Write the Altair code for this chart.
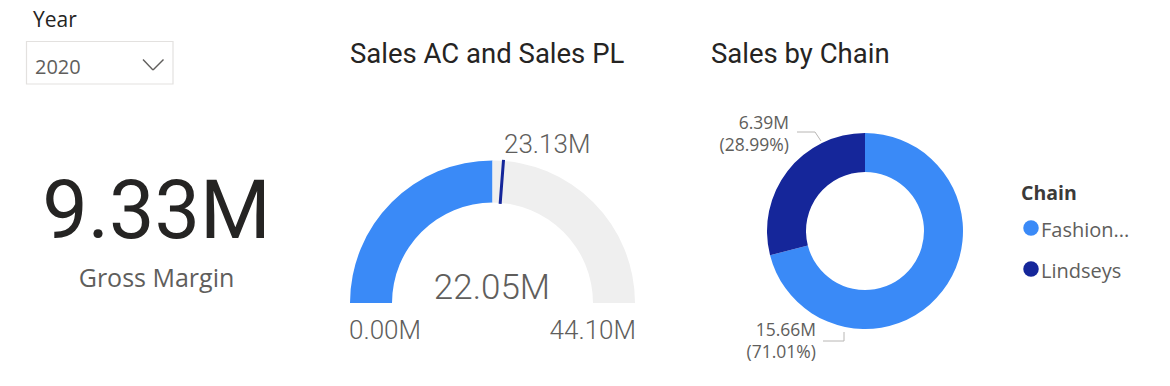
import math
import altair as alt
import pandas as pd

# ---------------- data ----------------
slicer_title = "Year"
slicer_value = "2020"

kpi_value = 9.33          # millions
kpi_label = "Gross Margin"

gauge_title = "Sales AC and Sales PL"
gauge_parts = ["Sales AC", "Remaining"]
sales_ac = 22.05          # millions
sales_pl = 23.13          # millions (target)
gauge_min = 0.00
gauge_max = 44.10

donut_title = "Sales by Chain"
chains = ["Fashion Direct", "Lindseys"]
chain_legend_labels = ["Fashion...", "Lindseys"]
chain_sales = [15.66, 6.39]      # millions
chain_share = [71.01, 28.99]     # percent
legend_title = "Chain"

# ---------------- styles / layout ----------------
BLUE = "#3A8AF7"
NAVY = "#15269A"
TRACK = "#EFEFEF"
DARK = "#252423"
MID = "#605E5C"
LEADER = "#B8B6B4"
BOX = "#E3E1DF"

DIN = "Roboto"
SEGOE = "Open Sans"

OFF = 8
W, H = 1170 - 2 * OFF, 386 - 2 * OFF


def px(v):
    return v - OFF


def text_layer(label, x, y, size, font, color, align="left", weight="normal",
               baseline="alphabetic", **kw):
    df = pd.DataFrame({"t": [label]})
    return alt.Chart(df).mark_text(
        align=align, baseline=baseline, fontSize=size, font=font,
        color=color, fontWeight=weight, **kw
    ).encode(text="t:N", x=alt.value(px(x)), y=alt.value(px(y)))


def rule(x1, y1, x2, y2, color, width=1.0):
    df = pd.DataFrame({"k": [0]})
    return alt.Chart(df).mark_rule(color=color, strokeWidth=width).encode(
        x=alt.value(px(x1)), y=alt.value(px(y1)),
        x2=alt.value(px(x2)), y2=alt.value(px(y2)))


layers = []

# ---- slicer ----
layers.append(text_layer(slicer_title, 33, 10, 21, SEGOE, DARK, baseline="top"))
box_df = pd.DataFrame({"k": [0]})
layers.append(alt.Chart(box_df).mark_rect(fill="white", stroke=BOX, strokeWidth=1.2).encode(
    x=alt.value(px(26.5)), x2=alt.value(px(173)), y=alt.value(px(41.5)), y2=alt.value(px(84))))
layers.append(text_layer(slicer_value, 35, 74, 20, SEGOE, MID))
layers.append(rule(143, 59.5, 153, 70, MID, 1.4))
layers.append(rule(153, 70, 163.5, 59.5, MID, 1.4))

# ---- KPI card ----
layers.append(text_layer(f"{kpi_value:.2f}M", 156.5, 238, 81, DIN, DARK, align="center"))
layers.append(text_layer(kpi_label, 156.5, 286.5, 25, SEGOE, MID, align="center"))

# ---- gauge ----
GX, GY, GR, GR2 = 492.5, 303, 142.5, 100.5
theta_g = alt.Scale(domain=[gauge_min, gauge_max], range=[-math.pi / 2, math.pi / 2], nice=False)
gauge_df = pd.DataFrame({
    "part": gauge_parts,
    "lo": [gauge_min, sales_ac],
    "hi": [sales_ac, gauge_max],
})
layers.append(alt.Chart(gauge_df).mark_arc(radius=GR, radius2=GR2).encode(
    theta=alt.Theta("lo:Q", scale=theta_g),
    theta2="hi:Q",
    color=alt.Color("part:N", scale=alt.Scale(domain=gauge_parts, range=[BLUE, TRACK]), legend=None),
    x=alt.value(px(GX)), y=alt.value(px(GY)),
))
target_df = pd.DataFrame({"target": [sales_pl]})
layers.append(alt.Chart(target_df).mark_arc(
    radius=GR + 1, radius2=GR2 - 1, fill=NAVY, stroke=NAVY, strokeWidth=3).encode(
    theta=alt.Theta("target:Q", scale=theta_g),
    theta2="target:Q",
    x=alt.value(px(GX)), y=alt.value(px(GY)),
))
layers.append(text_layer(gauge_title, 350, 63, 27.5, DIN, DARK))
layers.append(text_layer(f"{sales_pl:.2f}M", 504, 153, 26, DIN, MID, weight=300))
layers.append(text_layer(f"{sales_ac:.2f}M", 492, 299, 35, DIN, MID, align="center", weight=300))
layers.append(text_layer(f"{gauge_min:.2f}M", 349, 339, 26, DIN, MID, weight=300))
layers.append(text_layer(f"{gauge_max:.2f}M", 636, 339, 26, DIN, MID, align="right", weight=300))

# ---- donut ----
DX, DY, DR, DR2 = 865, 231, 98, 59
chain_scale = alt.Scale(domain=chains, range=[BLUE, NAVY])
donut_df = pd.DataFrame({"chain": chains, "sales": chain_sales, "share": chain_share})
layers.append(alt.Chart(donut_df).mark_arc(radius=DR, radius2=DR2).encode(
    theta=alt.Theta("sales:Q", stack=True),
    order=alt.Order("sales:Q", sort="descending"),
    color=alt.Color("chain:N", scale=chain_scale, legend=None),
    x=alt.value(px(DX)), y=alt.value(px(DY)),
))
layers.append(text_layer(donut_title, 711, 63, 27.5, DIN, DARK))

label_anchor = {"Fashion Direct": (816, 336, 22), "Lindseys": (789, 128.5, 22)}
for c, v, s in zip(chains, chain_sales, chain_share):
    ax, ay, lh = label_anchor[c]
    layers.append(text_layer(f"{v:.2f}M\n({s:.2f}%)", ax, ay, 17.5, SEGOE, MID,
                             align="right", lineBreak="\n", lineHeight=lh))
# leader lines
layers.append(rule(797, 132, 815, 132, LEADER))
layers.append(rule(815, 132, 821, 141, LEADER))
layers.append(rule(823, 341, 844, 341, LEADER))
layers.append(rule(844, 341, 844, 332, LEADER))

# ---- legend ----
layers.append(text_layer(legend_title, 1021, 200, 19.5, SEGOE, "#3B3A39", weight="bold"))
leg_df = pd.DataFrame({"chain": chains, "label": chain_legend_labels})
leg_y = alt.Y("chain:N", scale=alt.Scale(type="point", domain=chains, range=[px(228), px(269)], padding=0), axis=None)
layers.append(alt.Chart(leg_df).mark_circle(size=240, opacity=1).encode(
    x=alt.value(px(1031)), y=leg_y,
    color=alt.Color("chain:N", scale=chain_scale, legend=None),
))
layers.append(alt.Chart(leg_df).mark_text(
    align="left", baseline="alphabetic", dy=8.5, fontSize=20, font=SEGOE, color=MID).encode(
    x=alt.value(px(1041)), y=leg_y, text="label:N"))

chart = alt.layer(*layers).resolve_scale(
    theta="independent", color="independent"
).properties(
    width=W, height=H, padding=0, background="white",
    autosize=alt.AutoSizeParams(type="fit", contains="padding"),
).configure_view(stroke=None)

chart.save("out.html", embed_options={"renderer": "svg", "actions": False})
